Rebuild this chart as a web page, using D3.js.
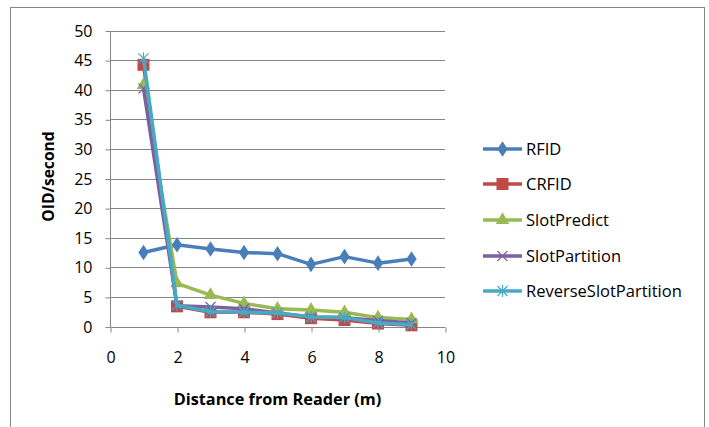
<!DOCTYPE html>
<html><head><meta charset="utf-8">
<script src="https://cdn.jsdelivr.net/npm/d3@7"></script>
<style>body{margin:0;background:#fff;} text{font-family:"Open Sans","Noto Sans",sans-serif;}</style>
</head><body>
<svg id="c" width="709" height="427"></svg>
<script>
const distances = [1,2,3,4,5,6,7,8,9];
const rfid = [12.5,13.8,13.1,12.5,12.3,10.5,11.8,10.7,11.4];
const crfid = [44.2,3.4,2.4,2.4,2.1,1.4,1.1,0.5,0.2];
const slotPredict = [40.8,7.3,5.3,3.9,3.0,2.8,2.4,1.5,1.2];
const slotPartition = [40.2,3.5,3.3,3.0,2.3,1.6,1.5,1.0,0.6];
const reverseSlotPartition = [45.3,3.6,2.5,2.4,2.3,1.6,1.5,0.6,0.3];
const seriesNames = ["RFID","CRFID","SlotPredict","SlotPartition","ReverseSlotPartition"];
const seriesValues = [rfid,crfid,slotPredict,slotPartition,reverseSlotPartition];
const colors = ["#4A7EBB","#BE4B48","#98B954","#7D60A0","#46AAC5"];
const markers = ["diamond","square","triangle","x","star"];
const yTicks = [0,5,10,15,20,25,30,35,40,45,50];
const xTicks = [0,2,4,6,8,10];

const svg = d3.select("#c");
svg.append("rect").attr("x",10.5).attr("y",7.5).attr("width",694).attr("height",430)
  .attr("fill","#fff").attr("stroke","#868686").attr("stroke-width",1);

const x = d3.scaleLinear().domain([0,10]).range([110,445]);
const y = d3.scaleLinear().domain([0,50]).range([326.5,30.5]);

// gridlines
svg.append("g").selectAll("line").data(yTicks.filter(d=>d>0)).join("line")
  .attr("x1",x(0)).attr("x2",x(10)).attr("y1",d=>Math.round(y(d))+0.5).attr("y2",d=>Math.round(y(d))+0.5)
  .attr("stroke","#868686").attr("stroke-width",1);

const yAxis = svg.append("g").attr("transform",`translate(${x(0)+0.5},0.5)`)
  .call(d3.axisLeft(y).tickValues(yTicks).tickSize(5).tickPadding(13));
const xAxis = svg.append("g").attr("transform",`translate(0.5,${Math.round(y(0))+0.5})`)
  .call(d3.axisBottom(x).tickValues(xTicks).tickSize(5).tickPadding(19));
[yAxis,xAxis].forEach(a=>{
  a.selectAll("path,line").attr("stroke","#868686");
  a.selectAll("text").attr("font-size",16).attr("fill","#000");
});
yAxis.select(".domain").attr("d",`M0,${y(50)}V${y(0)}`);
xAxis.select(".domain").attr("d",`M${x(0)},0H${x(10)}`);

svg.append("text").attr("transform","translate(54,176.5) rotate(-90)").attr("text-anchor","middle")
  .attr("font-weight","bold").attr("font-size",15.6).text("OID/second");
svg.append("text").attr("x",277.5).attr("y",405).attr("text-anchor","middle")
  .attr("font-weight","bold").attr("font-size",16.3).text("Distance from Reader (m)");

function drawMarker(g,type,color,cx,cy){
  if(type==="diamond"){
    g.append("path").attr("d",d3.symbol(d3.symbolDiamond,70)()).attr("transform",`translate(${cx},${cy}) scale(1.15,1)`).attr("fill",color);
  } else if(type==="square"){
    g.append("rect").attr("x",cx-6).attr("y",cy-6).attr("width",12).attr("height",12).attr("fill",color);
  } else if(type==="triangle"){
    g.append("path").attr("d",d3.symbol(d3.symbolTriangle,80)()).attr("transform",`translate(${cx},${cy})`).attr("fill",color);
  } else if(type==="x"){
    g.append("path").attr("d",`M${cx-5},${cy-5}L${cx+5},${cy+5}M${cx-5},${cy+5}L${cx+5},${cy-5}`).attr("stroke",color).attr("stroke-width",1.2).attr("fill","none");
  } else if(type==="star"){
    g.append("path").attr("d",`M${cx-5},${cy-5}L${cx+5},${cy+5}M${cx-5},${cy+5}L${cx+5},${cy-5}M${cx},${cy-6}L${cx},${cy+6}`).attr("stroke",color).attr("stroke-width",1.2).attr("fill","none");
  }
}

const line = d3.line().x((d,i)=>x(distances[i])).y(d=>y(d));
seriesValues.forEach((vals,si)=>{
  const g = svg.append("g");
  g.append("path").datum(vals).attr("d",line).attr("fill","none").attr("stroke",colors[si])
    .attr("stroke-width",3.5).attr("stroke-linejoin","round");
  vals.forEach((v,i)=>drawMarker(g,markers[si],colors[si],x(distances[i]),y(v)));
});

// legend
const legY = [149,184,220,256,291];
seriesNames.forEach((n,i)=>{
  const g = svg.append("g");
  g.append("line").attr("x1",483).attr("x2",522).attr("y1",legY[i]).attr("y2",legY[i]).attr("stroke",colors[i]).attr("stroke-width",3.5);
  drawMarker(g,markers[i],colors[i],502.5,legY[i]);
  g.append("text").attr("x",526).attr("y",legY[i]).attr("dy","0.35em").attr("font-size",16.5).text(n);
});
</script>
</body></html>
